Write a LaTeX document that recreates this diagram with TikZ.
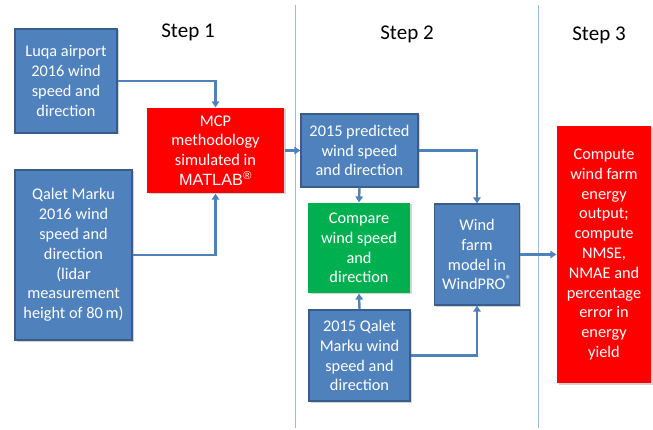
\documentclass[tikz,border=0pt]{standalone}
\usepackage{fontspec}
\setmainfont{Carlito}
\newfontfamily\arialfont{Liberation Sans}
\usepackage{tikz}
\usetikzlibrary{arrows.meta}
\usetikzlibrary{shadows}
\definecolor{boxblue}{HTML}{4F81BD}
\definecolor{boxedge}{HTML}{385D8A}
\definecolor{boxgreen}{HTML}{00B050}
\definecolor{sepline}{HTML}{9DBBE0}

\begin{document}
\begin{tikzpicture}[x=1pt, y=-1pt,
		box/.style={draw=boxedge, line width=1.2pt, fill=boxblue, text=white, align=center, inner sep=0pt,
			font=\fontsize{16.3}{19.8}\selectfont, drop shadow={shadow xshift=1.5pt, shadow yshift=-1.5pt, opacity=0.35}},
		redbox/.style={box, draw=none, fill=red},
		greenbox/.style={box, draw=none, fill=boxgreen},
		arr/.style={draw=boxblue, line width=2.4pt, -{Triangle[width=7.5pt,length=6pt]}},
		steplabel/.style={font=\fontsize{21}{24}\selectfont}]
	\useasboundingbox (0,0) rectangle (653,430);
	% separators and headings
	\draw[sepline, line width=0.9pt] (295,5)--(295,428);
	\draw[sepline, line width=0.9pt] (538.5,5)--(538.5,428);
	\node[steplabel] (step1) at (188,32) {Step 1};
	\node[steplabel] (step2) at (407,34) {Step 2};
	\node[steplabel] (step3) at (599,35) {Step 3};
	% step 1
	\node[box, minimum width=102pt, minimum height=104pt] (luqa) at (66,81) {Luqa airport\\2016 wind\\speed and\\direction};
	\node[box, minimum width=117pt, minimum height=170pt] (qalet16) at (73.5,255) {Qalet Marku\\2016 wind\\speed and\\direction\\(lidar\\measurement\\height of 80\,m)};
	\node[redbox, minimum width=137pt, minimum height=85pt] (mcp) at (215.5,150.5) {MCP\\methodology\\simulated in\\{\arialfont MATLAB\textsuperscript{\textregistered}}};
	% step 2
	\node[box, minimum width=117pt, minimum height=73pt] (pred) at (359.5,150.5) {2015 predicted\\wind speed\\and direction};
	\node[greenbox, minimum width=102pt, minimum height=90pt] (cmp) at (359,248) {Compare\\wind speed\\and\\direction};
	\node[box, minimum width=101pt, minimum height=91pt] (qalet15) at (359.5,355.5) {2015 Qalet\\Marku wind\\speed and\\direction};
	\node[box, minimum width=85pt, minimum height=101pt] (wfarm) at (477,254.5) {Wind\\farm\\model in\\WindPRO\textsuperscript{\textregistered}};
	% step 3
	\node[redbox, minimum width=94pt, minimum height=257pt] (yield) at (604,254.5) {Compute\\wind farm\\energy\\output;\\compute\\NMSE,\\NMAE and\\percentage\\error in\\energy\\yield};
	% connectors
	\draw[arr] (luqa.east) -| (mcp.north);
	\draw[arr] (qalet16.east) -| (mcp.south);
	\draw[arr] (mcp.east) -- (pred.west);
	\draw[arr] (pred.south) -- (cmp.north);
	\draw[arr] (qalet15.north) -- (cmp.south);
	\draw[arr] (pred.east) -| (wfarm.north);
	\draw[arr] (qalet15.east) -| (wfarm.south);
	\draw[arr] (wfarm.east) -- (yield.west);
\end{tikzpicture}
\end{document}
